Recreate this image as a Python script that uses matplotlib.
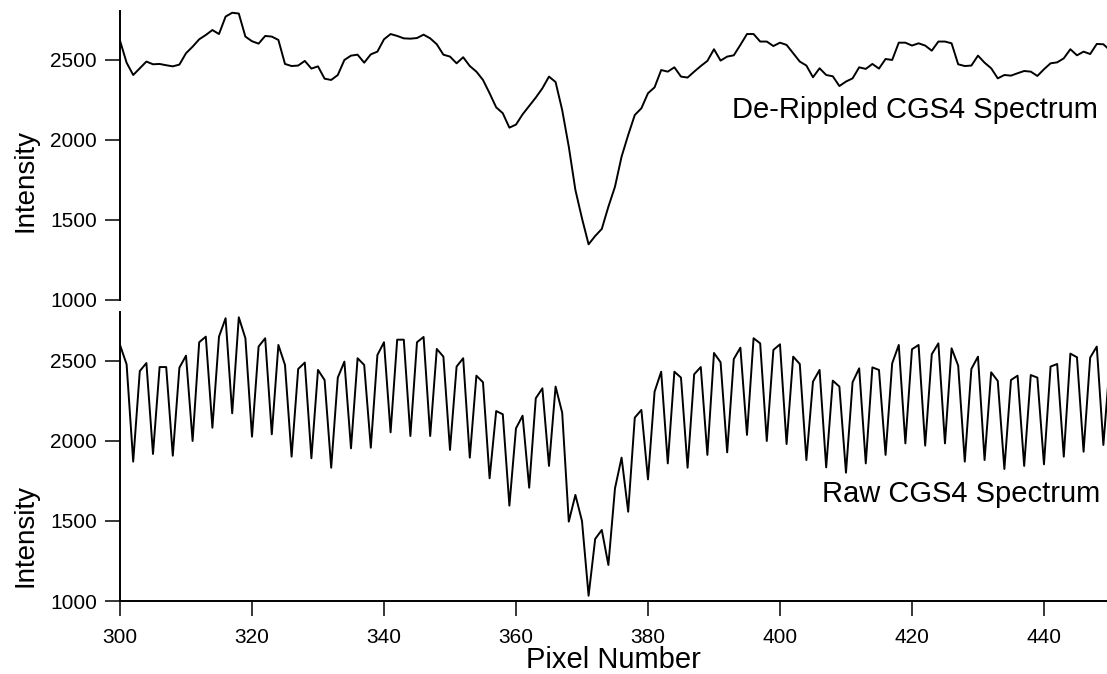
import numpy as np
import matplotlib
matplotlib.use('Agg')
import matplotlib.pyplot as plt

plt.rcParams['font.family'] = ['Liberation Sans', 'DejaVu Sans']

pixel = np.arange(300, 451)

derippled = [
    2621, 2483, 2406, 2448, 2490, 2473, 2475, 2467, 2460, 2471,
    2542, 2583, 2629, 2656, 2687, 2662, 2771, 2795, 2790, 2646,
    2617, 2602, 2650, 2646, 2625, 2475, 2462, 2465, 2494, 2446,
    2460, 2383, 2375, 2406, 2500, 2527, 2533, 2483, 2535, 2552,
    2629, 2662, 2650, 2635, 2633, 2637, 2658, 2635, 2598, 2533,
    2521, 2479, 2517, 2462, 2427, 2375, 2292, 2204, 2167, 2077,
    2096, 2160, 2212, 2265, 2323, 2396, 2362, 2187, 1958, 1688,
    1510, 1348, 1400, 1444, 1583, 1708, 1896, 2031, 2156, 2198,
    2292, 2329, 2437, 2427, 2454, 2396, 2390, 2427, 2462, 2494,
    2567, 2496, 2521, 2529, 2594, 2662, 2662, 2615, 2615, 2587,
    2608, 2594, 2542, 2490, 2465, 2392, 2448, 2406, 2398, 2337,
    2365, 2385, 2454, 2444, 2475, 2446, 2506, 2500, 2608, 2608,
    2590, 2604, 2590, 2558, 2615, 2615, 2604, 2473, 2462, 2465,
    2527, 2483, 2448, 2385, 2406, 2402, 2417, 2431, 2427, 2400,
    2442, 2479, 2485, 2510, 2567, 2529, 2552, 2537, 2600, 2598,
    2560,
]

raw = [
    2600, 2479, 1871, 2437, 2487, 1919, 2462, 2462, 1908, 2458,
    2533, 2000, 2617, 2652, 2083, 2652, 2767, 2173, 2773, 2642,
    2027, 2590, 2642, 2042, 2600, 2475, 1902, 2450, 2490, 1892,
    2444, 2381, 1833, 2396, 2496, 1954, 2517, 2475, 1958, 2537,
    2617, 2054, 2633, 2633, 2031, 2617, 2650, 2031, 2575, 2527,
    1944, 2465, 2517, 1896, 2408, 2367, 1767, 2187, 2167, 1596,
    2079, 2158, 1708, 2267, 2329, 1844, 2340, 2177, 1496, 1663,
    1500, 1033, 1388, 1444, 1225, 1704, 1896, 1558, 2146, 2194,
    1760, 2308, 2433, 1860, 2433, 2396, 1833, 2417, 2462, 1913,
    2550, 2492, 1929, 2512, 2583, 2038, 2642, 2610, 2000, 2569,
    2604, 1981, 2527, 2481, 1881, 2371, 2444, 1835, 2377, 2340,
    1802, 2367, 2454, 1860, 2460, 2444, 1913, 2485, 2600, 1985,
    2573, 2600, 1971, 2542, 2610, 1985, 2579, 2471, 1871, 2450,
    2527, 1881, 2429, 2375, 1825, 2381, 2408, 1844, 2412, 2396,
    1854, 2465, 2481, 1902, 2546, 2523, 1933, 2521, 2590, 1975,
    2500,
]

yticks = [1000, 1500, 2000, 2500]
xticks = [300, 320, 340, 360, 380, 400, 420, 440]

fig = plt.figure(figsize=(11.07, 6.74), dpi=100)
top = fig.add_axes([0.1084, 0.5549, 0.8916, 0.4288])
bottom = fig.add_axes([0.1084, 0.1083, 0.8916, 0.4288])

for ax in (top, bottom):
    ax.set_xlim(300, 449.55)
    ax.set_ylim(1000, 2806)
    ax.set_yticks(yticks)
    ax.spines['top'].set_visible(False)
    ax.spines['right'].set_visible(False)
    ax.spines['left'].set_linewidth(1.4)
    ax.spines['bottom'].set_linewidth(1.4)
    ax.tick_params(axis='both', direction='out', length=10.5, width=1.1,
                   labelsize=15, pad=6)
    ax.tick_params(axis='x', pad=9)
    ax.set_ylabel('Intensity', fontsize=20)

top.yaxis.set_label_coords(-0.083, 0.415)
bottom.yaxis.set_label_coords(-0.083, 0.228)

top.plot(pixel, derippled, c='black', lw=1.4)
top.spines['bottom'].set_visible(False)
top.tick_params(axis='x', bottom=False, labelbottom=False)
top.text(448.2, 2137, 'De-Rippled CGS4 Spectrum', ha='right', va='baseline',
         fontsize=21)

bottom.plot(pixel, raw, c='black', lw=1.4)
bottom.set_xticks(xticks)
bottom.set_xlabel('Pixel Number', fontsize=21, labelpad=-1)
bottom.text(448.6, 1621, 'Raw CGS4 Spectrum', ha='right', va='baseline',
            fontsize=21)

plt.savefig('out.png', dpi=100)
